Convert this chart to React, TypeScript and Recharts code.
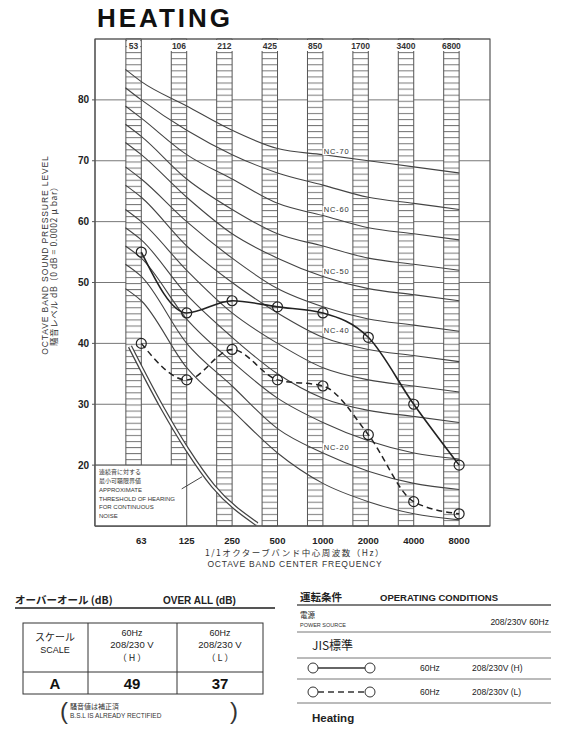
import React from 'react';
import {
    LineChart, Line, XAxis, YAxis, CartesianGrid, ReferenceArea, ReferenceDot, ReferenceLine
} from 'recharts';

// octave bands (bottom axis) and the numbers printed at the top of each hatched column
const bands = ['63', '125', '250', '500', '1000', '2000', '4000', '8000'];
const edgeLabels = ['53', '106', '212', '425', '850', '1700', '3400', '6800'];
const yTicks = [20, 30, 40, 50, 60, 70, 80];

// measured levels, 60Hz 208/230V
const levelH = [55, 45, 47, 46, 45, 41, 30, 20];
const levelL = [40, 34, 39, 34, 33, 25, 14, 12];

// NC curves, first value = where the line starts at the left edge of the 63 column
const ncX = [-0.35, 0, 1, 2, 3, 4, 5, 6, 7];
const nc15 = [49, 47, 36, 29, 22, 17, 14, 12, 11];
const nc20 = [53, 51, 40, 33, 26, 22, 19, 17, 16];
const nc25 = [56, 54, 44, 37, 31, 27, 24, 22, 21];
const nc30 = [59, 57, 48, 41, 35, 31, 29, 28, 27];
const nc35 = [62, 60, 52, 45, 40, 36, 34, 33, 32];
const nc40 = [66, 64, 56, 50, 45, 41, 39, 38, 37];
const nc45 = [69, 67, 60, 54, 49, 46, 44, 43, 42];
const nc50 = [73, 71, 64, 58, 54, 51, 49, 48, 47];
const nc55 = [76, 74, 67, 62, 58, 56, 54, 53, 52];
const nc60 = [79, 77, 71, 67, 63, 61, 59, 58, 57];
const nc65 = [82, 80, 75, 71, 68, 66, 64, 63, 62];
const nc70 = [85, 83, 79, 75, 72, 71, 70, 69, 68];
const ncCurves = [nc15, nc20, nc25, nc30, nc35, nc40, nc45, nc50, nc55, nc60, nc65, nc70];

// NC tags drawn on the curves
const ncTagNames = ['NC-70', 'NC-60', 'NC-50', 'NC-40', 'NC-20'];
const ncTagLevels = [71.5, 62, 51.8, 42.2, 23];

// approximate threshold of hearing (double line)
const thresholdX = [-0.25, 0.47, 1.0, 1.58, 2.55];
const thresholdY = [39.5, 29.3, 22.7, 16.6, 10.3];

const boxLines = ['連続音に対する', '最小可聴限界値', 'APPROXIMATE', 'THRESHOLD OF HEARING', 'FOR CONTINUOUS', 'NOISE'];

const X_MIN = -1.02;
const X_MAX = 7.68;
const COL_W = 0.34;
const FONT = '"Liberation Sans", Arial, sans-serif';
const JP = '"Noto Sans CJK JP", "Liberation Sans", sans-serif';

const toPoints = (xs: number[], ys: number[]) => xs.map((x, i) => ({ x, y: ys[i] }));

const columnLabel = (text: string) => (props: any) => {
    const vb = props.viewBox;
    if (!vb) return null;
    const cx = vb.x + vb.width / 2;
    const w = text.length * 5 + 3;
    return (
        <g>
            <rect x={cx - w / 2} y={vb.y + 1} width={w} height={11} fill="#fff" />
            <text x={cx} y={vb.y + 10} textAnchor="middle" fontSize={8.5} fontWeight="bold" fill="#333">{text}</text>
        </g>
    );
};

const boxLabel = (props: any) => {
    const vb = props.viewBox;
    if (!vb) return null;
    return (
        <g>
            {boxLines.map((t, i) => (
                <text key={t} x={vb.x + 4} y={vb.y + 9 + i * 8.8} fontSize={6} fill="#333"
                    fontFamily={i < 2 ? JP : FONT}>{t}</text>
            ))}
        </g>
    );
};

const ncTag = (text: string) => (p: any) => (
    <g>
        <rect x={p.cx - 14} y={p.cy - 3.5} width={28} height={7} fill="#fff" />
        <text x={p.cx} y={p.cy + 2.7} textAnchor="middle" fontSize={7.5} letterSpacing={0.8} fill="#333">{text}</text>
    </g>
);

function NoiseChart() {
    const hData = toPoints([0, 1, 2, 3, 4, 5, 6, 7], levelH);
    const lData = toPoints([0, 1, 2, 3, 4, 5, 6, 7], levelL);
    const thData = toPoints(thresholdX, thresholdY);

    return (
        <LineChart width={564} height={560} margin={{ top: 39, right: 74, bottom: 14, left: 0 }}>
            <defs>
                <pattern id="hatch" patternUnits="userSpaceOnUse" x={0} y={3.55} width={20} height={6.075}>
                    <rect x={0} y={0} width={20} height={6.075} fill="#fff" />
                    <line x1={0} y1={0.5} x2={20} y2={0.5} stroke="#777" strokeWidth={1} />
                </pattern>
            </defs>
            <XAxis dataKey="x" type="number" domain={[X_MIN, X_MAX]} allowDataOverflow ticks={[0, 1, 2, 3, 4, 5, 6, 7]}
                tickFormatter={(v: number) => bands[v] ?? ''} height={20} tickLine={false} tickMargin={5}
                axisLine={{ stroke: '#555' }} tick={{ fontSize: 9.5, fontWeight: 600, fill: '#222' }} />
            <YAxis type="number" domain={[10, 90]} ticks={yTicks} width={95} tickSize={3} tickMargin={3}
                axisLine={{ stroke: '#555' }} tickLine={{ stroke: '#555' }}
                tick={{ fontSize: 10, fontWeight: 700, fill: '#222' }} />

            {/* hatched columns */}
            {bands.map((b, i) => (
                <ReferenceArea key={b} x1={i - COL_W} x2={i} y1={i < 2 ? 20 : 10} y2={90}
                    fill="url(#hatch)" fillOpacity={1} stroke="#555" strokeWidth={1}
                    label={columnLabel(edgeLabels[i])} />
            ))}

            <CartesianGrid vertical={false} stroke="#777" />

            {/* frame */}
            <ReferenceArea x1={X_MIN} x2={X_MAX} y1={10} y2={90} fill="none" stroke="#555" strokeWidth={1.2} />

            {ncCurves.map((c, i) => (
                <Line key={i} data={toPoints(ncX, c)} dataKey="y" type="monotone" stroke="#444" strokeWidth={1.1}
                    dot={false} activeDot={false} isAnimationActive={false} />
            ))}

            {/* threshold of hearing, double stroke */}
            <Line data={thData} dataKey="y" type="monotone" stroke="#444" strokeWidth={4.5} dot={false} activeDot={false} isAnimationActive={false} />
            <Line data={thData} dataKey="y" type="monotone" stroke="#fff" strokeWidth={2} dot={false} activeDot={false} isAnimationActive={false} />

            <ReferenceArea x1={X_MIN} x2={1} y1={10} y2={20} fill="#fff" fillOpacity={1} stroke="#555" label={boxLabel} />
            <ReferenceLine segment={[{ x: 0.89, y: 16.1 }, { x: 1.34, y: 18.1 }]} stroke="#444" />

            {ncTagNames.map((n, i) => (
                <ReferenceDot key={n} x={4.3} y={ncTagLevels[i]} r={0} shape={ncTag(n)} />
            ))}

            <Line data={lData} dataKey="y" type="monotone" stroke="#222" strokeWidth={1.5} strokeDasharray="6 4"
                dot={{ r: 5, fill: 'none', stroke: '#222', strokeWidth: 1.2, strokeDasharray: '' }} activeDot={false} isAnimationActive={false} />
            <Line data={hData} dataKey="y" type="monotone" stroke="#222" strokeWidth={1.6}
                dot={{ r: 5, fill: 'none', stroke: '#222', strokeWidth: 1.2 }} activeDot={false} isAnimationActive={false} />
        </LineChart>
    );
}

function Overlay() {
    return (
        <svg width={564} height={731} style={{ position: 'absolute', left: 0, top: 0, pointerEvents: 'none' }}>
            <text x={97} y={27} fontSize={26} fontWeight="bold" letterSpacing={3} fill="#111" fontFamily={FONT}>HEATING</text>

            {/* y axis titles */}
            <text transform="translate(48,255) rotate(-90)" textAnchor="middle" fontSize={8.5} letterSpacing={0.9} fill="#333" fontFamily={FONT}>
                OCTAVE BAND SOUND PRESSURE LEVEL
            </text>
            <text transform="translate(57,264) rotate(-90)" textAnchor="middle" fontSize={8.5} letterSpacing={0.6} fill="#333" fontFamily={JP}>
                騒音レベル dB（0 dB = 0.0002 μ bar）
            </text>

            {/* x axis titles */}
            <text x={295} y={556} textAnchor="middle" fontSize={8.5} letterSpacing={1.5} fill="#333" fontFamily={JP}>1/1オクターブバンド中心周波数（Hz）</text>
            <text x={295} y={567} textAnchor="middle" fontSize={8.5} letterSpacing={0.8} fill="#333" fontFamily={FONT}>OCTAVE BAND CENTER FREQUENCY</text>

            {/* over all table */}
            <text x={15} y={604} fontSize={10.5} fontWeight="bold" fill="#222" fontFamily={JP}>オーバーオール (dB)</text>
            <text x={163} y={604} fontSize={10} fontWeight="bold" fill="#222" fontFamily={FONT}>OVER ALL (dB)</text>
            <line x1={15} y1={608} x2={275} y2={608} stroke="#555" strokeWidth={2} />

            <rect x={23} y={623} width={240} height={71} fill="none" stroke="#333" strokeWidth={1} />
            <line x1={88} y1={623} x2={88} y2={694} stroke="#333" />
            <line x1={177} y1={623} x2={177} y2={694} stroke="#333" />
            <line x1={23} y1={672} x2={263} y2={672} stroke="#333" />
            <text x={55} y={641} textAnchor="middle" fontSize={10} fill="#222" fontFamily={JP}>スケール</text>
            <text x={55} y={653} textAnchor="middle" fontSize={9} fill="#222" fontFamily={FONT}>SCALE</text>
            {['H', 'L'].map((m, i) => (
                <g key={m}>
                    <text x={i === 0 ? 132 : 220} y={636} textAnchor="middle" fontSize={9} fill="#222" fontFamily={FONT}>60Hz</text>
                    <text x={i === 0 ? 132 : 220} y={648} textAnchor="middle" fontSize={9.5} fill="#222" fontFamily={FONT}>208/230 V</text>
                    <text x={i === 0 ? 132 : 220} y={661} textAnchor="middle" fontSize={9} fill="#222" fontFamily={JP}>（ {m} ）</text>
                </g>
            ))}
            <text x={55} y={689} textAnchor="middle" fontSize={15} fontWeight="bold" fill="#111" fontFamily={FONT}>A</text>
            <text x={132} y={689} textAnchor="middle" fontSize={15} fontWeight="bold" fill="#111" fontFamily={FONT}>49</text>
            <text x={220} y={689} textAnchor="middle" fontSize={15} fontWeight="bold" fill="#111" fontFamily={FONT}>37</text>

            <text x={60} y={719} fontSize={24} fill="#333" fontFamily={FONT}>(</text>
            <text x={230} y={719} fontSize={24} fill="#333" fontFamily={FONT}>)</text>
            <text x={70} y={709} fontSize={7} fill="#333" fontFamily={JP}>騒音値は補正済</text>
            <text x={70} y={718} fontSize={6.5} fill="#333" fontFamily={FONT}>B.S.L IS ALREADY RECTIFIED</text>

            {/* operating conditions */}
            <text x={300} y={601} fontSize={10.5} fontWeight="bold" fill="#222" fontFamily={JP}>運転条件</text>
            <text x={380} y={601} fontSize={9.5} fontWeight="bold" fill="#222" fontFamily={FONT}>OPERATING CONDITIONS</text>
            <line x1={297} y1={605} x2={551} y2={605} stroke="#555" strokeWidth={1.5} />
            <text x={300} y={618} fontSize={7.5} fill="#222" fontFamily={JP}>電源</text>
            <text x={300} y={627} fontSize={5.5} fill="#333" fontFamily={FONT}>POWER SOURCE</text>
            <text x={549} y={625} textAnchor="end" fontSize={8.5} fill="#222" fontFamily={FONT}>208/230V  60Hz</text>
            <line x1={297} y1={632} x2={551} y2={632} stroke="#777" />
            <text x={312} y={650} fontSize={12} fill="#222" fontFamily={JP}>JIS標準</text>
            <line x1={297} y1={658} x2={551} y2={658} stroke="#777" />

            <circle cx={313} cy={668} r={5} fill="none" stroke="#333" />
            <circle cx={370} cy={668} r={5} fill="none" stroke="#333" />
            <line x1={318} y1={668} x2={365} y2={668} stroke="#333" strokeWidth={1.5} />
            <text x={420} y={671} fontSize={8.5} fill="#222" fontFamily={FONT}>60Hz</text>
            <text x={472} y={671} fontSize={8.5} fill="#222" fontFamily={FONT}>208/230V (H)</text>
            <line x1={297} y1={679} x2={551} y2={679} stroke="#777" />

            <circle cx={313} cy={692} r={5} fill="none" stroke="#333" />
            <circle cx={370} cy={692} r={5} fill="none" stroke="#333" />
            <line x1={318} y1={692} x2={365} y2={692} stroke="#333" strokeWidth={1.5} strokeDasharray="6 4" />
            <text x={420} y={695} fontSize={8.5} fill="#222" fontFamily={FONT}>60Hz</text>
            <text x={472} y={695} fontSize={8.5} fill="#222" fontFamily={FONT}>208/230V (L)</text>
            <line x1={297} y1={703} x2={551} y2={703} stroke="#777" />

            <text x={312} y={722} fontSize={11.5} fontWeight="bold" fill="#222" fontFamily={FONT}>Heating</text>
        </svg>
    );
}

export default function App() {
    return (
        <div style={{ position: 'absolute', left: 0, top: 0, width: 564, height: 731, background: '#fff', fontFamily: FONT }}>
            <NoiseChart />
            <Overlay />
        </div>
    );
}
